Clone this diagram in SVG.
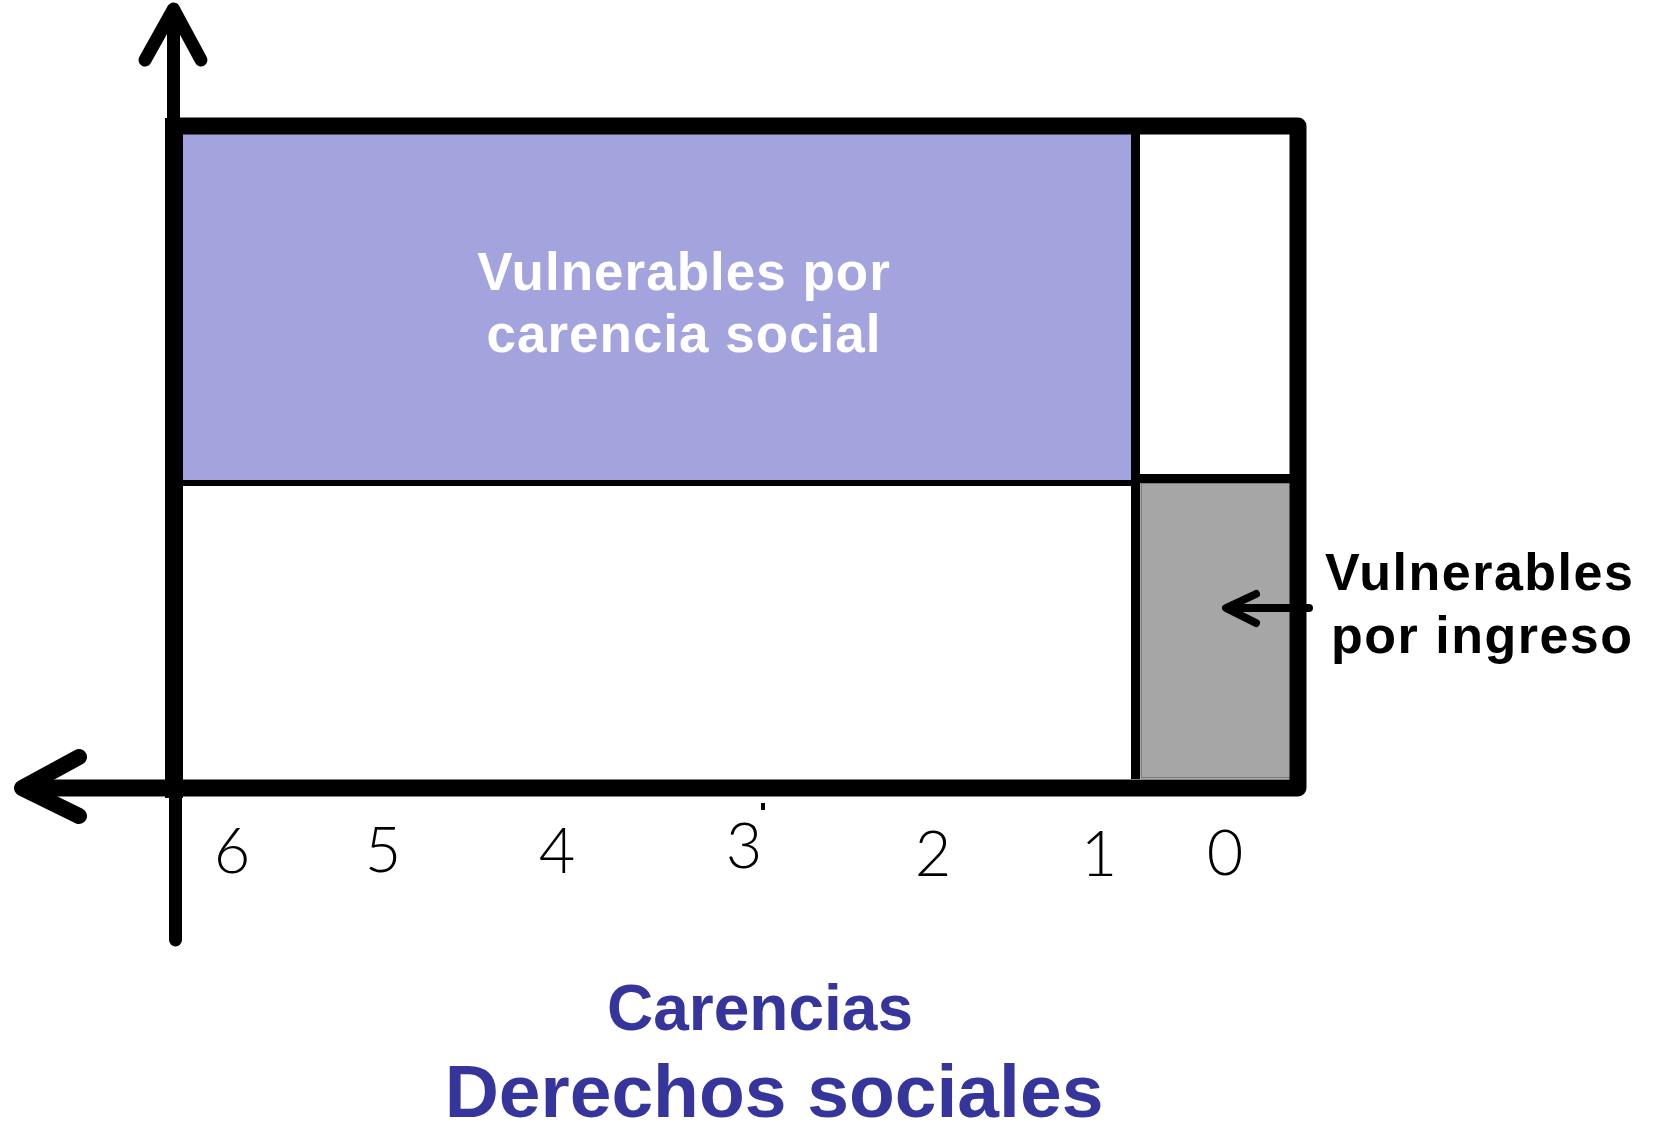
<svg xmlns="http://www.w3.org/2000/svg" width="1657" height="1123" viewBox="0 0 1657 1123">
<style>
.ax{stroke:#000;fill:none;stroke-linecap:round;stroke-linejoin:round}
.dig{font-family:Lato,"Liberation Sans",sans-serif;font-weight:300;font-size:63px;fill:#000;text-anchor:middle}
.wl{font-family:"Liberation Sans",Arial,sans-serif;font-weight:bold;font-size:53px;fill:#fff;text-anchor:middle;letter-spacing:1px}
.bl{font-family:"Liberation Sans",Arial,sans-serif;font-weight:bold;font-size:52px;fill:#000;letter-spacing:1.5px}
.tt{font-family:"Liberation Sans",Arial,sans-serif;font-weight:bold;fill:#35359b;text-anchor:middle}
</style>
<rect width="1657" height="1123" fill="#fff"/>
<g id="cell-vulnerables-carencia">
<rect x="183" y="134" width="948" height="347" fill="#a3a3de"/>
<text class="wl" x="684" y="290">Vulnerables por</text>
<text class="wl" x="684" y="352">carencia social</text>
</g>
<g id="cell-no-vulnerables-bottom">
<rect x="183" y="486" width="948" height="293" fill="#fff"/>
</g>
<g id="cell-top-right">
<rect x="1139" y="134" width="151" height="340" fill="#fff"/>
</g>
<g id="cell-vulnerables-ingreso">
<rect x="1141" y="483" width="151" height="295" fill="#a6a6a6" stroke="#555" stroke-width="1"/>
</g>
<g id="grid">
<rect x="183" y="480" width="956" height="6" fill="#000"/>
<rect x="1139" y="474" width="151" height="9" fill="#000"/>
<rect x="1131" y="134" width="9" height="645" fill="#000"/>
<path d="M174,126 H1298 V788 H174" class="ax" stroke-width="17" stroke-linecap="butt"/>
<rect x="165" y="118" width="18" height="680" fill="#000"/>
</g>
<g id="connectors">
<line x1="173.5" y1="120" x2="173.5" y2="12" class="ax" stroke-width="13" stroke-linecap="butt"/>
<polyline points="145,60 173.5,9 201,60" class="ax" stroke-width="13"/>
<line x1="175.5" y1="796" x2="175.5" y2="940" class="ax" stroke-width="13" stroke-linecap="butt"/>
<line x1="170" y1="788" x2="24" y2="788" class="ax" stroke-width="17" stroke-linecap="butt"/>
<polyline points="79,757 22,788 79,816" class="ax" stroke-width="16"/>
<line x1="1309" y1="608" x2="1230" y2="608" class="ax" stroke-width="8" stroke-linecap="butt"/>
<polyline points="1256,594 1226,608 1256,623" class="ax" stroke-width="8"/>
<rect x="761" y="803" width="4" height="7" fill="#000"/>
</g>
<g id="label-ingreso">
<text class="bl" x="1325" y="590">Vulnerables</text>
<text class="bl" x="1331" y="653">por ingreso</text>
</g>
<g id="axis-numbers">
<text class="dig" x="232" y="873">6</text>
<text class="dig" x="383" y="872">5</text>
<text class="dig" x="557" y="873">4</text>
<text class="dig" x="744" y="868">3</text>
<text class="dig" x="933" y="876">2</text>
<text class="dig" x="1099" y="876">1</text>
<text class="dig" x="1225" y="875">0</text>
</g>
<g id="titles">
<text class="tt" x="760" y="1030" font-size="64">Carencias</text>
<text class="tt" x="774" y="1117" font-size="75">Derechos sociales</text>
</g>
</svg>
